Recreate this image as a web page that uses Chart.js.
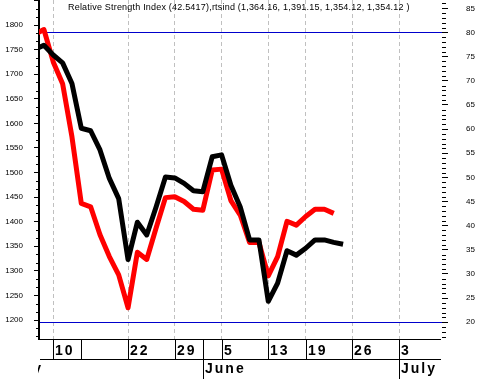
<!DOCTYPE html>
<html><head><meta charset="utf-8">
<script src="https://cdn.jsdelivr.net/npm/chart.js@4.4.0/dist/chart.umd.min.js"></script>
<style>html,body{margin:0;padding:0;background:#fff;overflow:hidden}#c{display:block}</style>
</head><body>
<canvas id="c" width="479" height="379"></canvas>
<script>
// trading-day index (0 = first full day shown)
const days = [-1,0,1,2,3,4,5,6,7,8,9,10,11,12,13,14,15,16,17,18,19,20,21,22,23,24,25,26,27,28,29,30,31,32];
const priceValues = [1750,1759,1739,1723,1681,1590,1585,1546,1488,1447,1323,1399,1373,1430,1491,1489,1478,1463,1461,1532,1536,1474,1430,1363,1363,1238,1275,1341,1332,1346,1363,1363,1358,1354];
const rsiDays = [-1,0,1,2,3,4,5,6,7,8,9,10,11,12,13,14,15,16,17,18,19,20,21,22,23,24,25,26,27,28,29,30,31];
const rsiValues = [79.6,80.6,73.9,69.4,58.4,44.6,43.9,38.1,33.6,29.8,23.0,34.5,33.0,39.5,45.8,46.0,45.0,43.4,43.2,51.5,51.7,45.2,42.2,36.5,36.5,29.6,33.6,40.9,40.1,41.9,43.4,43.4,42.54];
const gridDays = [1,9,14,19,24,28,33,38];
const gridLabels = ['10','22','29','5','13','19','26','3'];
const cellDividerDays = [1,4,9,14,17,19,24,28,33,38];
const monthDays = [17,38];
const monthLabels = ['June','July'];
const priceTicks = [1200,1250,1300,1350,1400,1450,1500,1550,1600,1650,1700,1750,1800];
const rsiTicks = [20,25,30,35,40,45,50,55,60,65,70,75,80,85];
const rsiBands = [80,20];
const titleText = 'Relative Strength Index (42.5417),rtsind (1,364.16, 1,391.15, 1,354.12, 1,354.12 )';

const FONT = '"Liberation Sans", Arial, sans-serif';

function fixW(w){ return s => { s.width = w; s.paddingTop = 0; s.paddingBottom = 0; }; }

const deco = {
  id: 'deco',
  beforeDatasetsDraw(chart){
    const ctx = chart.ctx, a = chart.chartArea, y1 = chart.scales.y1;
    ctx.save();
    ctx.strokeStyle = '#0000cc'; ctx.lineWidth = 1;
    rsiBands.forEach(v => {
      const py = Math.round(y1.getPixelForValue(v)) + 0.5;
      ctx.beginPath(); ctx.moveTo(a.left + 1, py); ctx.lineTo(a.right, py); ctx.stroke();
    });
    ctx.restore();
  },
  afterDraw(chart){
    const ctx = chart.ctx, a = chart.chartArea;
    const x = chart.scales.x, y = chart.scales.y, y1 = chart.scales.y1;
    ctx.save();
    ctx.strokeStyle = '#000'; ctx.lineWidth = 1;
    // minor ticks left (thirds of 50)
    for (let i = -2; i <= 39; i++) {
      if (i % 3 === 0 && i <= 36) continue;
      const v = 1200 + i * 50 / 3;
      const py = Math.round(y.getPixelForValue(v)) + 0.5;
      const len = (i % 3 === 0) ? 5 : 3;
      ctx.beginPath(); ctx.moveTo(a.left - len, py); ctx.lineTo(a.left, py); ctx.stroke();
    }
    // minor ticks right (every 1)
    for (let v = 17; v <= 86; v++) {
      if (v % 5 === 0 && v >= 20 && v <= 85) continue;
      const py = Math.round(y1.getPixelForValue(v)) + 0.5;
      ctx.beginPath(); ctx.moveTo(a.right, py); ctx.lineTo(a.right + 4, py); ctx.stroke();
    }
    // date table
    const b = Math.round(a.bottom) + 0.5;
    ctx.beginPath(); ctx.moveTo(a.left + 1, b); ctx.lineTo(a.right - 1, b); ctx.stroke();
    ctx.beginPath(); ctx.moveTo(a.left + 1, b + 20); ctx.lineTo(a.right - 1, b + 20); ctx.stroke();
    cellDividerDays.forEach(d => {
      const px = Math.round(x.getPixelForValue(d)) + 0.5;
      ctx.beginPath(); ctx.moveTo(px, b); ctx.lineTo(px, b + 20); ctx.stroke();
    });
    monthDays.forEach(d => {
      const px = Math.round(x.getPixelForValue(d)) + 0.5;
      ctx.beginPath(); ctx.moveTo(px, b + 20); ctx.lineTo(px, 379); ctx.stroke();
    });
    ctx.fillStyle = '#000';
    ctx.font = 'bold 14px ' + FONT;
    try { ctx.letterSpacing = '2px'; } catch(e) {}
    ctx.textAlign = 'left'; ctx.textBaseline = 'alphabetic';
    gridDays.forEach((d, i) => {
      const px = Math.round(x.getPixelForValue(d));
      ctx.fillText(gridLabels[i], px + 2, b + 15);
    });
    monthDays.forEach((d, i) => {
      const px = Math.round(x.getPixelForValue(d));
      ctx.fillText(monthLabels[i], px + 2, b + 33);
    });
    // clipped previous month label
    ctx.save();
    ctx.beginPath(); ctx.rect(a.left - 1, b + 20, 30, 20); ctx.clip();
    ctx.textAlign = 'right';
    ctx.fillText('May', a.left + 4, b + 33);
    ctx.restore();
    // title
    try { ctx.letterSpacing = '0.2px'; } catch(e) {}
    ctx.font = '9px ' + FONT;
    ctx.textAlign = 'left'; ctx.textBaseline = 'middle';
    ctx.fillText(titleText, 68, 7.5);
    try { ctx.letterSpacing = '0px'; } catch(e) {}
    ctx.restore();
  }
};

new Chart(document.getElementById('c'), {
  type: 'line',
  data: {
    datasets: [
      { label: 'rtsind', data: days.map((d, i) => ({x: d, y: priceValues[i]})), yAxisID: 'y',
        borderColor: '#000', backgroundColor: '#000', borderWidth: 5, pointRadius: 0,
        tension: 0, clip: 0, borderJoinStyle: 'round', order: 0 },
      { label: 'RSI', data: rsiDays.map((d, i) => ({x: d, y: rsiValues[i]})), yAxisID: 'y1',
        borderColor: '#ff0000', backgroundColor: '#ff0000', borderWidth: 5, pointRadius: 0,
        tension: 0, clip: 0, borderJoinStyle: 'round', order: 1 }
    ]
  },
  options: {
    responsive: false, animation: false, devicePixelRatio: 1,
    layout: { padding: 0 },
    plugins: { legend: { display: false }, title: { display: false }, tooltip: { enabled: false } },
    scales: {
      x: {
        type: 'linear', min: -0.524, max: 42.58,
        afterBuildTicks: s => { s.ticks = gridDays.map(v => ({value: v})); },
        afterFit: s => { s.height = 40; s.paddingLeft = 0; s.paddingRight = 0; },
        ticks: { display: false },
        grid: { color: '#c0c0c0', lineWidth: 1, drawTicks: false },
        border: { display: false, dash: [4, 3] }
      },
      y: {
        type: 'linear', position: 'left', min: 1161.4, max: 1850.9,
        afterBuildTicks: s => { s.ticks = priceTicks.map(v => ({value: v})); },
        afterFit: fixW(39),
        ticks: { color: '#000', font: { family: FONT, size: 8 }, padding: 11, callback: v => String(v) },
        grid: { drawOnChartArea: false, drawTicks: true, tickLength: 5, tickColor: '#000' },
        border: { display: true, color: '#000', width: 2 }
      },
      y1: {
        type: 'linear', position: 'right', min: 16.53, max: 86.72,
        afterBuildTicks: s => { s.ticks = rsiTicks.map(v => ({value: v})); },
        afterFit: fixW(37),
        ticks: { color: '#000', font: { family: FONT, size: 8 }, padding: 18, callback: v => String(v) },
        grid: { drawOnChartArea: false, drawTicks: true, tickLength: 6, tickColor: '#000' },
        border: { display: false, width: 0 }
      }
    }
  },
  plugins: [deco]
});
</script>
</body></html>
